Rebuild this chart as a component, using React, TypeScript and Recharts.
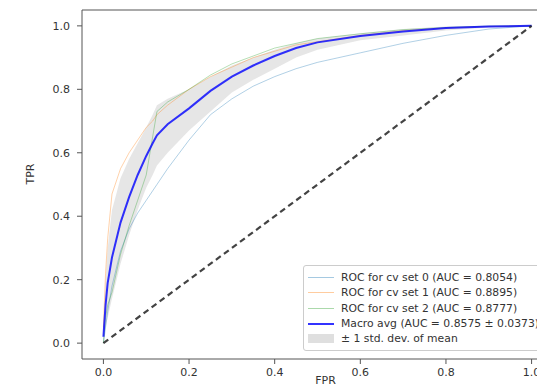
import {
  ComposedChart,
  Line,
  Area,
  XAxis,
  YAxis,
  ReferenceLine,
  ReferenceArea,
} from "recharts";

// shared FPR grid for every curve
const FPR = [0, 0.005, 0.01, 0.02, 0.04, 0.06, 0.08, 0.1, 0.115, 0.125, 0.15, 0.2, 0.25, 0.3, 0.35, 0.4, 0.45, 0.5, 0.6, 0.7, 0.8, 0.9, 1.0];
const CV0 = [0, 0.05, 0.1, 0.18, 0.29, 0.36, 0.41, 0.45, 0.48, 0.5, 0.55, 0.64, 0.72, 0.77, 0.81, 0.84, 0.865, 0.885, 0.915, 0.945, 0.97, 0.99, 1];
const CV1 = [0.05, 0.22, 0.33, 0.47, 0.55, 0.6, 0.64, 0.68, 0.7, 0.72, 0.75, 0.8, 0.84, 0.87, 0.9, 0.92, 0.94, 0.95, 0.97, 0.985, 0.993, 0.998, 1];
const CV2 = [0, 0.08, 0.12, 0.16, 0.28, 0.37, 0.45, 0.53, 0.65, 0.73, 0.76, 0.8, 0.845, 0.88, 0.905, 0.93, 0.945, 0.96, 0.975, 0.988, 0.995, 0.999, 1];
const MEAN = [0.02, 0.12, 0.19, 0.27, 0.38, 0.46, 0.53, 0.59, 0.63, 0.655, 0.69, 0.74, 0.795, 0.84, 0.875, 0.905, 0.93, 0.948, 0.968, 0.982, 0.993, 0.998, 1];
const STD_HI = [0.05, 0.2, 0.3, 0.42, 0.52, 0.58, 0.63, 0.68, 0.72, 0.75, 0.77, 0.8, 0.84, 0.875, 0.9, 0.925, 0.945, 0.96, 0.977, 0.99, 0.998, 1, 1];
const STD_LO = [0, 0.05, 0.08, 0.14, 0.25, 0.34, 0.42, 0.49, 0.53, 0.56, 0.6, 0.67, 0.73, 0.79, 0.83, 0.865, 0.9, 0.925, 0.955, 0.97, 0.985, 0.995, 1];

const CHANCE_X = [0, 1];
const CHANCE_Y = [0, 1];

const TICKS = [0, 0.2, 0.4, 0.6, 0.8, 1.0];

const SERIES = [
  { key: "cv0", name: "ROC for cv set 0 (AUC = 0.8054)", color: "#1f77b4" },
  { key: "cv1", name: "ROC for cv set 1 (AUC = 0.8895)", color: "#ff7f0e" },
  { key: "cv2", name: "ROC for cv set 2 (AUC = 0.8777)", color: "#2ca02c" },
];
const MEAN_NAME = "Macro avg (AUC = 0.8575 \u00b1 0.0373)";
const STD_NAME = "\u00b1 1 std. dev. of mean";

const data = FPR.map((x, i) => ({
  fpr: x,
  cv0: CV0[i],
  cv1: CV1[i],
  cv2: CV2[i],
  mean: MEAN[i],
  band: [STD_LO[i], STD_HI[i]],
}));

const FRAME = "#555";
const TEXT = "#333";
const FONT = "DejaVu Sans, sans-serif";
const tick = { fill: TEXT, fontSize: 11, fontFamily: FONT };

function LegendBox() {
  const rowH = 15.3;
  return (
    <div
      style={{
        position: "absolute",
        left: 303,
        top: 265,
        padding: "4px 8px 4px 4px",
        background: "rgba(255,255,255,0.8)",
        border: "1px solid #ccc",
        borderRadius: 3,
        fontFamily: FONT,
        fontSize: 10.8,
        color: TEXT,
        whiteSpace: "nowrap",
      }}
    >
      {SERIES.map((s) => (
        <div key={s.key} style={{ display: "flex", alignItems: "center", height: rowH }}>
          <span style={{ width: 26, height: 1, background: s.color, opacity: 0.4, marginRight: 7 }} />
          {s.name}
        </div>
      ))}
      <div style={{ display: "flex", alignItems: "center", height: rowH }}>
        <span style={{ width: 26, height: 2, background: "#0000ff", opacity: 0.8, marginRight: 7 }} />
        {MEAN_NAME}
      </div>
      <div style={{ display: "flex", alignItems: "center", height: rowH }}>
        <span style={{ width: 26, height: 9, background: "rgba(128,128,128,0.25)", marginRight: 7 }} />
        {STD_NAME}
      </div>
    </div>
  );
}

export default function App() {
  return (
    <div style={{ position: "relative", width: 537, height: 388, overflow: "hidden", background: "#fff" }}>
      <style>{"body{margin:0}"}</style>
      <ComposedChart width={560} height={388} data={data} margin={{ top: 10, right: 7, left: 0, bottom: 0 }}>
        <XAxis
          dataKey="fpr"
          type="number"
          domain={[-0.05, 1.05]}
          ticks={TICKS}
          allowDataOverflow
          tickFormatter={(v) => v.toFixed(1)}
          tick={tick}
          tickSize={5}
          tickMargin={4}
          axisLine={false}
          tickLine={{ stroke: FRAME }}
          height={29}
          label={{ value: "FPR", position: "insideBottom", offset: 4, dx: 8, fill: TEXT, fontSize: 11, fontFamily: FONT }}
        />
        <YAxis
          type="number"
          domain={[-0.05, 1.05]}
          ticks={TICKS}
          allowDataOverflow
          tickFormatter={(v) => v.toFixed(1)}
          tick={tick}
          tickSize={5}
          tickMargin={7}
          axisLine={false}
          tickLine={{ stroke: FRAME }}
          width={82}
          label={{ value: "TPR", angle: -90, position: "insideLeft", offset: 30, fill: TEXT, fontSize: 11, fontFamily: FONT }}
        />
        <Area
          dataKey="band"
          type="linear"
          stroke="none"
          fill="#808080"
          fillOpacity={0.2}
          isAnimationActive={false}
        />
        {SERIES.map((s) => (
          <Line
            key={s.key}
            dataKey={s.key}
            type="linear"
            stroke={s.color}
            strokeOpacity={0.35}
            strokeWidth={1}
            dot={false}
            isAnimationActive={false}
          />
        ))}
        <Line
          dataKey="mean"
          type="linear"
          stroke="#0000ff"
          strokeOpacity={0.8}
          strokeWidth={2}
          dot={false}
          isAnimationActive={false}
        />
        <ReferenceLine
          segment={[
            { x: CHANCE_X[0], y: CHANCE_Y[0] },
            { x: CHANCE_X[1], y: CHANCE_Y[1] },
          ]}
          stroke="#222"
          strokeWidth={2.2}
          strokeDasharray="6 4"
          strokeOpacity={0.85}
        />
        <ReferenceArea
          x1={-0.05}
          x2={1.05}
          y1={-0.05}
          y2={1.05}
          fill="none"
          stroke={FRAME}
          strokeWidth={1}
          ifOverflow="visible"
        />
      </ComposedChart>
      <LegendBox />
    </div>
  );
}
